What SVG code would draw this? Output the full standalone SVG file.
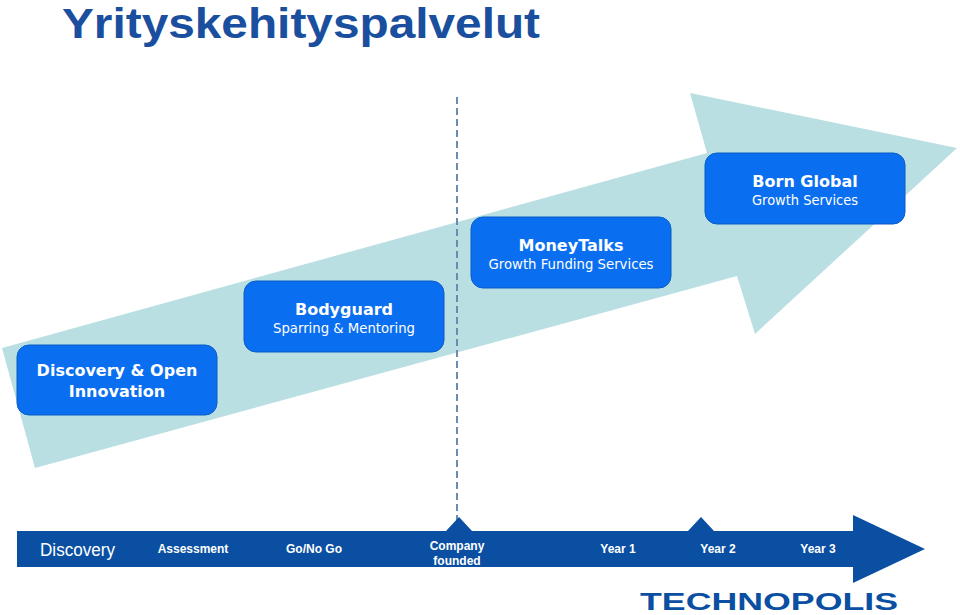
<svg xmlns="http://www.w3.org/2000/svg" width="960" height="615" viewBox="0 0 960 615">
<style>
.box{fill:#0a6ef0;stroke:#0a5cc8;stroke-width:1}
.t{font-family:"DejaVu Sans",sans-serif;fill:#fff;text-anchor:middle}
.b{font-weight:bold;font-size:16px}
.s{font-size:14px}
.tl{font-family:"Liberation Sans",Arial,sans-serif;fill:#fff;font-size:12px;font-weight:bold;text-anchor:middle}
</style>
<rect width="960" height="615" fill="#fff"/>
<text x="62" y="38" font-family="Liberation Sans,Arial,sans-serif" font-weight="bold" font-size="42" fill="#1a4e9e" textLength="478" lengthAdjust="spacingAndGlyphs">Yrityskehityspalvelut</text>
<polygon points="2,348 707,153 690,93 957,148 755,334 737,276 35,468" fill="#b9dfe3"/>
<g id="connectors">
<line x1="457" y1="97" x2="457" y2="522" stroke="#6a8cae" stroke-width="2" stroke-dasharray="7,4"/>
</g>
<g id="n1"><rect class="box" x="17" y="345" width="200" height="70" rx="12"/>
<text class="t b" x="117" y="376">Discovery &amp; Open</text><text class="t b" x="117" y="397">Innovation</text></g>
<g id="n2"><rect class="box" x="244" y="281" width="200" height="71" rx="12"/>
<text class="t b" x="344" y="315">Bodyguard</text><text class="t s" x="344" y="333" textLength="142" lengthAdjust="spacingAndGlyphs">Sparring &amp; Mentoring</text></g>
<g id="n3"><rect class="box" x="471" y="217" width="200" height="71" rx="12"/>
<text class="t b" x="571" y="251">MoneyTalks</text><text class="t s" x="571" y="269" textLength="165" lengthAdjust="spacingAndGlyphs">Growth Funding Services</text></g>
<g id="n4"><rect class="box" x="705" y="153" width="200" height="71" rx="12"/>
<text class="t b" x="805" y="187">Born Global</text><text class="t s" x="805" y="205" textLength="106" lengthAdjust="spacingAndGlyphs">Growth Services</text></g>
<g id="timeline">
<polygon points="17,531 446,531 459,517 472,531 688,531 701,517 714,531 853,531 853,515 925,549 853,583 853,567 17,567" fill="#0a4fa2"/>
<text x="40" y="556" font-family="Liberation Sans,Arial,sans-serif" font-size="18" fill="#fff" textLength="75" lengthAdjust="spacingAndGlyphs">Discovery</text>
<text class="tl" x="193" y="553">Assessment</text>
<text class="tl" x="314" y="553">Go/No Go</text>
<text class="tl" x="457" y="550">Company</text>
<text class="tl" x="457" y="565">founded</text>
<text class="tl" x="618" y="553">Year 1</text>
<text class="tl" x="718" y="553">Year 2</text>
<text class="tl" x="818" y="553">Year 3</text>
</g>
<text x="640" y="610" font-family="Liberation Sans,Arial,sans-serif" font-weight="bold" font-size="23" fill="#0a4fa2" textLength="258" lengthAdjust="spacingAndGlyphs">TECHNOPOLIS</text>
</svg>
